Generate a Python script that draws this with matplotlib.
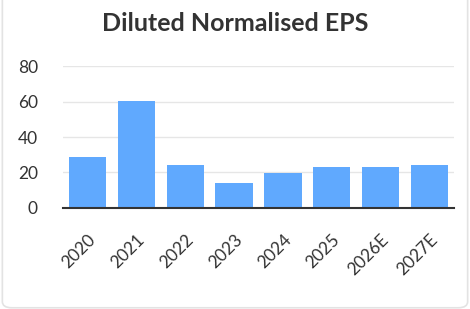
import matplotlib.pyplot as plt
from matplotlib.patches import FancyBboxPatch

years = ['2020', '2021', '2022', '2023', '2024', '2025', '2026E', '2027E']
eps = [29, 60.5, 24, 14, 19.5, 23, 23, 24]
y_ticks = [0, 20, 40, 60, 80]

plt.rcParams['font.family'] = ['Lato', 'DejaVu Sans']

fig = plt.figure(figsize=(4.7, 3.09), dpi=100)

# light card border behind the chart
card = FancyBboxPatch((0.005, 0.004), 0.99, 1.1, boxstyle='round,pad=0,rounding_size=0.02',
                      transform=fig.transFigure, facecolor='white', edgecolor='#e3e3e3',
                      linewidth=1.2, zorder=-5)
fig.patches.append(card)

ax = fig.add_axes([0.134, 0.327, 0.832, 0.459])
ax.set_facecolor('none')
ax.set_zorder(1)

x = range(len(years))
ax.bar(x, eps, width=0.76, color='#60a9fe', zorder=2)

ax.set_xlim(-0.5, len(years) - 0.5)
ax.set_ylim(0, 80)
ax.set_yticks(y_ticks)
ax.set_xticks(list(x))
ax.set_xticklabels(years, rotation=45, ha='right', rotation_mode='anchor')

ax.grid(axis='y', color='#e6e6e6', linewidth=1, zorder=0)
for s in ['top', 'right', 'left']:
    ax.spines[s].set_visible(False)
ax.spines['bottom'].set_color('#333333')
ax.spines['bottom'].set_linewidth(1.5)
ax.spines['bottom'].set_zorder(3)

ax.tick_params(axis='y', length=0, pad=18, labelsize=12.5, labelcolor='#333333')
ax.tick_params(axis='x', length=0, pad=17, labelsize=12.5, labelcolor='#333333')

fig.text(0.5, 0.925, 'Diluted Normalised EPS', ha='center', va='center',
         fontsize=18, fontweight='bold', color='#333333')

fig.savefig('out.png', dpi=100)
